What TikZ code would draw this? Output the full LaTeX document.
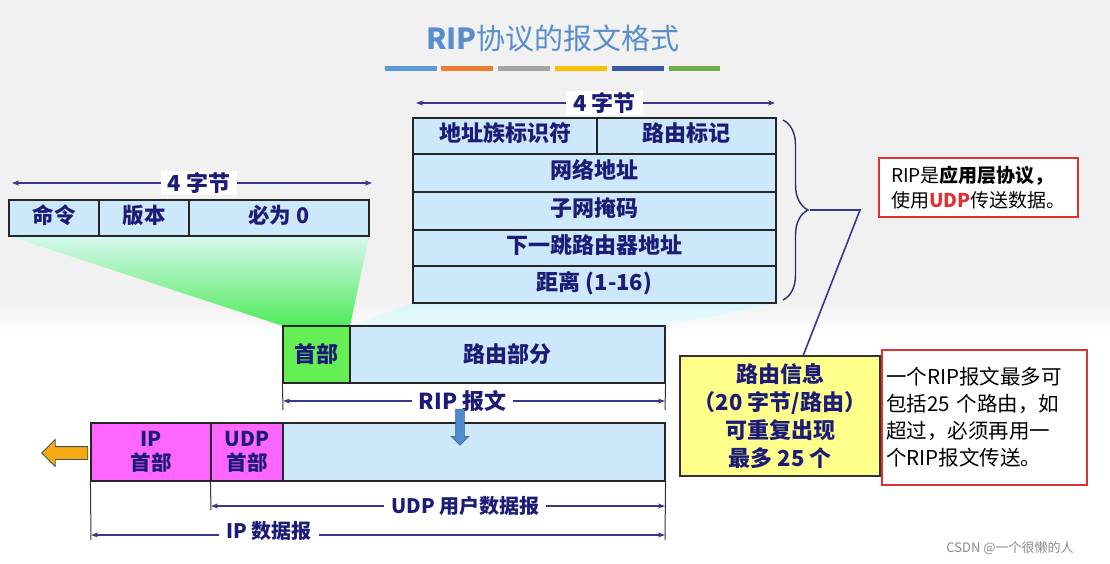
\documentclass[tikz,border=0pt]{standalone}
\usepackage{fontspec}
\setmainfont{Noto Sans CJK SC}
\usetikzlibrary{shapes.arrows,decorations.pathreplacing,arrows.meta}
\definecolor{navy}{RGB}{28,28,120}
\definecolor{dimc}{RGB}{55,55,140}
\definecolor{boxblue}{RGB}{205,232,250}
\definecolor{hdrgreen}{RGB}{102,238,85}
\definecolor{magent}{RGB}{255,102,255}
\definecolor{ylw}{RGB}{255,255,140}
\definecolor{redb}{RGB}{222,50,50}
\definecolor{titlec}{RGB}{88,142,205}
\definecolor{bggray}{RGB}{241,241,241}
\definecolor{funtop}{RGB}{215,248,240}
\definecolor{funbot}{RGB}{80,235,90}
\definecolor{funright}{RGB}{215,246,250}
\definecolor{barA}{RGB}{91,155,213}
\definecolor{barB}{RGB}{237,125,49}
\definecolor{barC}{RGB}{165,165,165}
\definecolor{barD}{RGB}{255,192,0}
\definecolor{barE}{RGB}{55,90,170}
\definecolor{barF}{RGB}{112,173,71}
\definecolor{arrblue}{RGB}{80,140,205}
\definecolor{arrorange}{RGB}{245,170,20}
\begin{document}
\begin{tikzpicture}[x=1pt,y=-1pt,
  cell/.style={draw=black!85, line width=1.1pt, fill=boxblue, inner sep=0pt,
    font=\bfseries\fontsize{22}{26}\selectfont, text=navy, text depth=8pt},
  hcell/.style={cell, font=\bfseries\fontsize{21.5}{25}\selectfont},
  pcell/.style={draw=black!85, line width=1.1pt, inner sep=0pt, align=center,
    font=\bfseries\fontsize{20.5}{24}\selectfont, text=navy},
  dim/.style={draw=dimc, line width=1.5pt, {Stealth[length=7pt,width=5pt]}-{Stealth[length=7pt,width=5pt]}},
  dimlab/.style={fill=white, inner xsep=7pt, inner ysep=1pt, text=navy,
    font=\bfseries\fontsize{22}{26}\selectfont},
  tick/.style={draw=black!80, line width=1pt},
  redbox/.style={draw=redb, line width=1.6pt, fill=white, inner sep=0pt},
  conn/.style={draw=dimc, line width=1.6pt}
]
\useasboundingbox (0,0) rectangle (1110,564);
% background
\fill[bggray] (0,0) rectangle (1110,300);
\shade[top color=bggray, bottom color=white] (0,300) rectangle (1110,336);
\fill[white] (0,336) rectangle (1110,564);

% title
\node[text=titlec, font=\fontsize{29}{34}\selectfont] (title) at (553,38) {\textbf{RIP}协议的报文格式};
\fill[barA] (385,66) rectangle (437,71);
\fill[barB] (441,66) rectangle (493,71);
\fill[barC] (498,66) rectangle (550,71);
\fill[barD] (555,66) rectangle (607,71);
\fill[barE] (612,66) rectangle (664,71);
\fill[barF] (669,66) rectangle (720,71);

% funnels
\shade[top color=funtop, bottom color=funbot] (9,236) -- (369,236) -- (350,326) -- (283,326) -- cycle;
\shade[top color=funright, bottom color=funright!50!white] (413,303) -- (776,303) -- (665,326) -- (350,326) -- cycle;

% left header format
\node[hcell, minimum width=90, minimum height=36] (cmd) at (54,218) {命令};
\node[hcell, minimum width=90, minimum height=36] (ver) at (144,218) {版本};
\node[hcell, minimum width=180, minimum height=36] (zero) at (279,218) {必为 0};
\coordinate (d1a) at (12,183);
\coordinate (d1b) at (372,183);
\draw[dim] (d1a) -- (d1b) node[dimlab, pos=0.52] (d1t) {4 字节};

% route entry format
\node[cell, minimum width=184, minimum height=36] (afi) at (505,136) {地址族标识符};
\node[cell, minimum width=179, minimum height=36] (tag) at (686.5,136) {路由标记};
\node[cell, minimum width=363, minimum height=38] (net) at (594.5,173) {网络地址};
\node[cell, minimum width=363, minimum height=38] (mask) at (594.5,211) {子网掩码};
\node[cell, minimum width=363, minimum height=36] (nhop) at (594.5,248) {下一跳路由器地址};
\node[cell, minimum width=363, minimum height=37] (metric) at (594.5,284.5) {距离 (1-16)};
\coordinate (d2a) at (416,103);
\coordinate (d2b) at (775,103);
\draw[dim] (d2a) -- (d2b) node[dimlab, pos=0.525] (d2t) {4 字节};

% brace and connector
\coordinate (bra) at (783,120);
\coordinate (brb) at (783,300);
\draw[draw=dimc!80!black, line width=1.4pt, decorate, decoration={brace, amplitude=25pt}] (bra) -- (brb);
\coordinate (btip) at (810,210);
\coordinate (bbend) at (860,210);
\coordinate (yin) at (803,356);

% RIP message
\node[cell, text depth=, fill=hdrgreen, minimum width=67, minimum height=57] (hdr) at (316.5,354.5) {首部};
\node[cell, text depth=, minimum width=315, minimum height=57] (routes) at (507.5,354.5) {路由部分};
\coordinate (t1) at (283,410);
\coordinate (t2) at (665,410);
\draw[tick] (hdr.south west) -- (t1);
\draw[tick] (routes.south east) -- (t2);
\coordinate (d3a) at (283,401);
\coordinate (d3b) at (665,401);
\draw[dim] (d3a) -- (d3b) node[dimlab, pos=0.47] (d3t) {RIP 报文};

% IP datagram
\node[pcell, fill=magent, minimum width=120, minimum height=58] (iph) at (151,452) {IP\\首部};
\node[pcell, fill=magent, minimum width=72, minimum height=58] (udph) at (247,452) {UDP\\首部};
\node[pcell, fill=boxblue, minimum width=382, minimum height=58] (data) at (474,452) {};
\coordinate (t3) at (211,510);
\coordinate (t4) at (665,540);
\coordinate (t5) at (91,540);
\draw[tick] (udph.south west) -- (t3);
\draw[tick] (data.south east) -- (t4);
\draw[tick] (iph.south west) -- (t5);
\coordinate (d4a) at (211,506);
\coordinate (d4b) at (665,506);
\draw[dim] (d4a) -- (d4b) node[dimlab, pos=0.56, font=\bfseries\fontsize{20}{24}\selectfont] (d4t) {UDP 用户数据报};
\coordinate (d5a) at (91,535);
\coordinate (d5b) at (665,535);
\draw[dim] (d5a) -- (d5b) node[dimlab, pos=0.31, yshift=4pt, font=\bfseries\fontsize{20}{24}\selectfont] (d5t) {IP 数据报};

% block arrows
\node[single arrow, shape border rotate=270, draw=arrblue!70!black, line width=0.6pt, fill=arrblue,
  minimum height=36, minimum width=17, single arrow head extend=4.5pt, inner sep=4pt] (down) at (460,425) {};
\node[single arrow, shape border rotate=180, draw=black!70, line width=0.8pt, fill=arrorange,
  minimum height=46, minimum width=26, single arrow head extend=7pt, inner sep=6pt] (left) at (68,453) {};

% yellow note
\node[draw=black!80, line width=1.1pt, fill=ylw, minimum width=200, minimum height=120, inner sep=0pt,
  align=center, text=navy, font=\bfseries\fontsize{22}{28}\selectfont] (yel) at (780,416)
  {路由信息\\（20 字节/路由）\\可重复出现\\最多 25 个};
\draw[conn] (btip) -- (bbend) -- (yin);

% red notes
\node[redbox, minimum width=199, minimum height=59, align=left, font=\fontsize{19}{25}\selectfont] (note1) at (978.5,187.5)
  {RIP是\textbf{应用层协议，}\\使用\textbf{\textcolor{redb}{UDP}}传送数据。};
\node[redbox, minimum width=205, minimum height=135, text width=197pt, inner xsep=4pt, align=left,
  font=\fontsize{20.5}{27}\selectfont] (note2) at (984.5,417.5)
  {一个RIP报文最多可\\包括25 个路由，如\\超过，必须再用一\\个RIP报文传送。};

% watermark
\node[text=black!45, font=\fontsize{13}{15}\selectfont] (wm) at (1010,548) {CSDN @一个很懒的人};
\end{tikzpicture}
\end{document}
